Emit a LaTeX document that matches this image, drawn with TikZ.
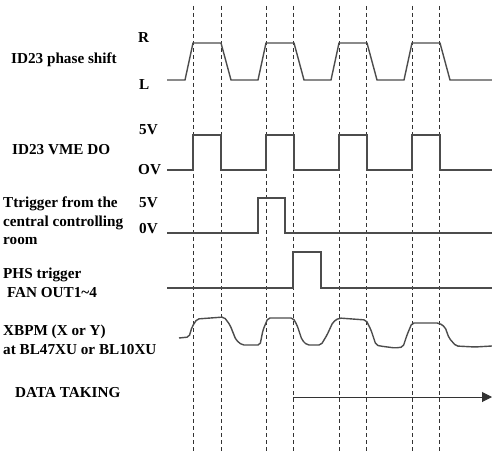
\documentclass[tikz,border=0pt]{standalone}
\usepackage{fontspec}
\setmainfont{Liberation Serif}
\usetikzlibrary{arrows.meta}
\tikzset{
  sig/.style={draw=black!70,line width=1.4pt},
  grd/.style={draw=black!80,line width=0.8pt,dash pattern=on 4pt off 3pt},
  lbl/.style={anchor=west,inner sep=0pt,align=left,font=\fontsize{15.2}{18.5}\selectfont\bfseries},
  lvl/.style={anchor=west,inner sep=0pt,font=\fontsize{15.2}{16}\selectfont\bfseries},
  dat/.style={-{Triangle[length=10pt,width=10pt]},draw=black!80,line width=1pt},
}
\begin{document}
\begin{tikzpicture}[x=1pt,y=-1pt]
  \useasboundingbox (0,0) rectangle (492,454);
  % dashed time marks
  \foreach \x in {193,221,266,293,339,366,412,439}
    \draw[grd] (\x,6) -- (\x,454);
  % signal names
  \node[lbl] (ps) at (11,60) {ID23 phase shift};
  \node[lbl] (vme) at (12,150) {ID23 VME DO};
  \node[lbl] (trg) at (3,221) {Ttrigger from the\\central controlling\\room};
  \node[lbl] (phs) at (3,283) {PHS trigger\\\ FAN OUT1\textasciitilde4};
  \node[lbl] (xb) at (3,340) {XBPM (X or Y)\\at BL47XU or BL10XU};
  \node[lbl] (dt) at (15,393) {DATA TAKING};
  % levels
  \node[lvl] (r) at (138,38) {R};
  \node[lvl] (l) at (139,85) {L};
  \node[lvl] (hi1) at (139,130) {5V};
  \node[lvl] (lo1) at (138,170) {OV};
  \node[lvl] (hi2) at (139,203) {5V};
  \node[lvl] (lo2) at (139,229) {0V};
  % waveforms
  \draw[sig] (167,80) foreach \a in {193,266,339,412}{ -- (\a-8,80) -- (\a,43) -- (\a+28,43) -- (\a+38,80) } -- (492,80);
  \draw[sig] (167,170) foreach \a in {193,266,339,412}{ -- (\a,170) -- (\a,135) -- (\a+28,135) -- (\a+28,170) } -- (492,170);
  \draw[sig] (167,233) -- (258,233) -- (258,198) -- (285,198) -- (285,233) -- (492,233);
  \draw[sig] (167,288) -- (293,288) -- (293,252) -- (321,252) -- (321,288) -- (492,288);
  \draw[sig,rounded corners=2pt] (179,338) -- (189,337) -- (192,327) -- (197,319) -- (224,317) -- (230,325)
    -- (236,340) -- (242,345) -- (260,345) -- (263,330) -- (268,318) -- (293,318) -- (297,325)
    -- (302,340) -- (307,345) -- (321,345) -- (327,335) -- (333,322) -- (339,318) -- (366,320)
    -- (371,330) -- (376,345) -- (380,346) -- (395,348) -- (403,347) -- (407,335) -- (412,323)
    -- (439,323) -- (445,327) -- (449,338) -- (456,346) -- (475,347) -- (492,346);
  % data taking
  \coordinate (ds) at (293,397);
  \coordinate (de) at (492,397);
  \draw[dat] (ds) -- (de);
\end{tikzpicture}
\end{document}
